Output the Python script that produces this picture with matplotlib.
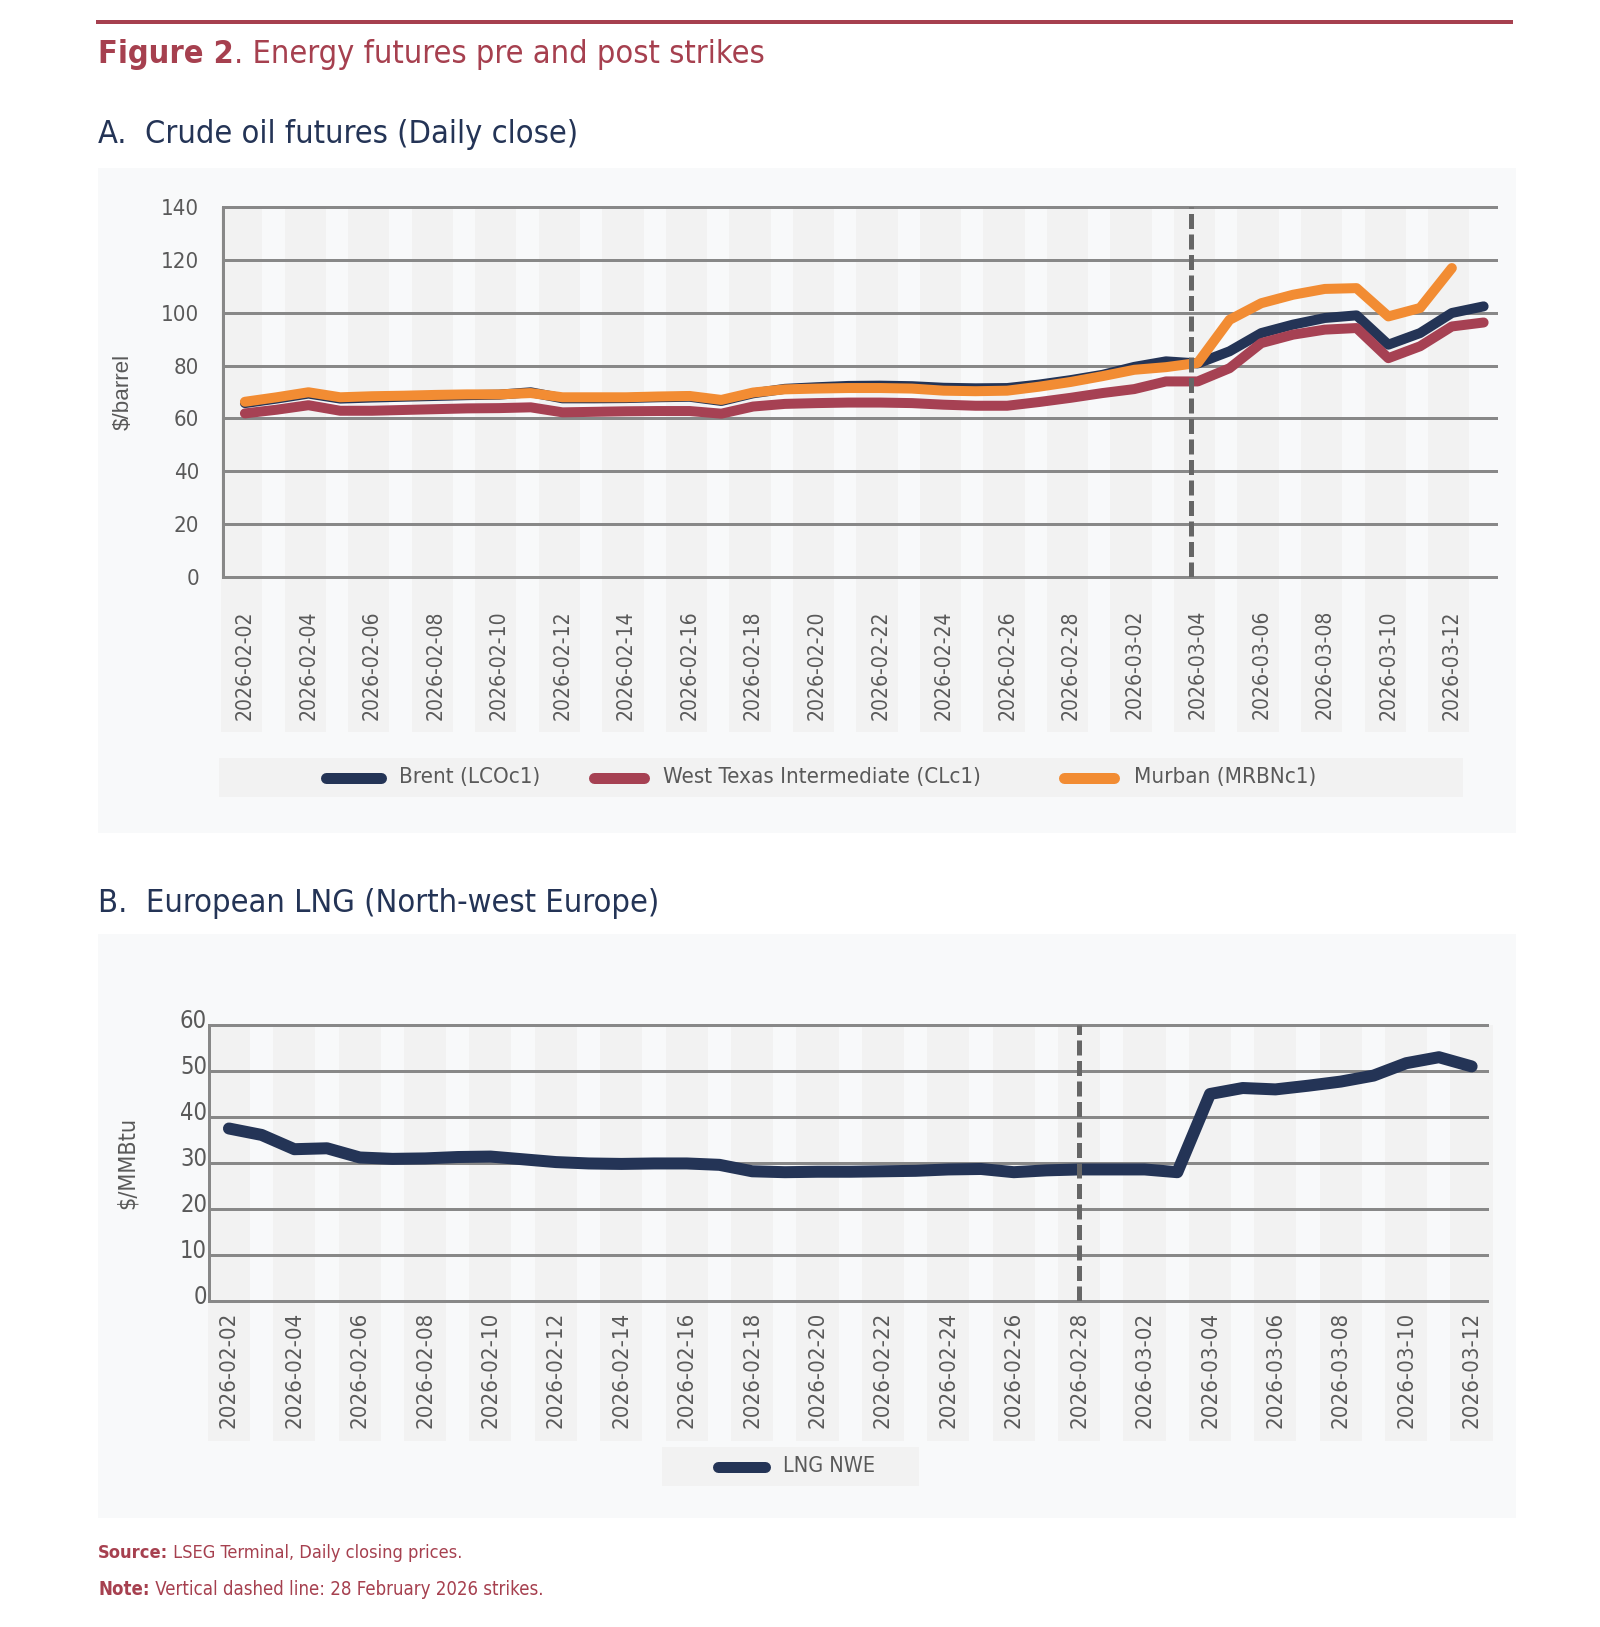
import numpy as np
import pandas as pd
import matplotlib
matplotlib.use("Agg")
import matplotlib.pyplot as plt
import matplotlib.font_manager as fm
from matplotlib.patches import Rectangle
from matplotlib.lines import Line2D
import matplotlib.transforms as mtransforms

W, H = 1600, 1627
RED, NAVY, WTI_C, ORANGE = "#a6404f", "#243456", "#a64153", "#f28c33"
GRID, TICK, DASH = "#888888", "#595959", "#666666"
PANEL, BAND = "#f8f9fa", "#f2f2f2"

# pick a narrow face if one is installed, else an Arial-like one
_cond = [f.name for f in fm.fontManager.ttflist
         if (f.stretch != "normal" or "Narrow" in f.name or "Condensed" in f.name)
         and f.style == "normal" and "Mono" not in f.name and "Serif" not in f.name]
FAM = [(_cond[0] if _cond else "Liberation Sans"), "DejaVu Sans"]
STRETCH = "condensed" if _cond else "normal"
REGULAR = ["Liberation Sans", "DejaVu Sans"]

# ---- data ----
crude_dates = list(pd.date_range("2026-02-02", "2026-03-13").strftime("%Y-%m-%d"))
brent = [65.8, 67.5, 69.4, 67.5, 67.9, 68.2, 68.5, 68.8, 69.0, 69.9,
         67.6, 67.6, 67.7, 68.0, 68.2, 66.6, 69.5, 71.2, 71.8, 72.3,
         72.4, 72.2, 71.6, 71.4, 71.5, 72.8, 74.5, 76.5, 79.5, 81.6,
         80.8, 85.4, 92.3, 95.5, 98.0, 99.0, 87.9, 92.3, 99.9, 102.4]
wti = [61.9, 63.3, 65.0, 62.9, 62.9, 63.2, 63.5, 63.8, 63.9, 64.2,
       62.3, 62.5, 62.7, 62.8, 62.8, 61.8, 64.5, 65.5, 65.8, 66.0,
       66.0, 65.8, 65.2, 64.8, 64.8, 66.2, 67.8, 69.6, 71.1, 74.0,
       74.0, 79.0, 88.5, 91.7, 93.6, 94.2, 82.8, 87.3, 94.8, 96.3]
murban = [66.3, 68.0, 69.9, 68.0, 68.4, 68.6, 68.9, 69.1, 69.1, 69.6,
          68.0, 68.0, 68.0, 68.3, 68.5, 67.0, 69.8, 71.0, 71.3, 71.5,
          71.5, 71.3, 70.5, 70.3, 70.5, 72.0, 73.8, 76.0, 78.4, 79.4,
          81.0, 97.3, 103.6, 106.8, 109.0, 109.3, 98.6, 101.8, 116.9]
crude_strike = 29.8          # dashed line position in panel A (category units)

lng_dates = crude_dates[:39]
lng = [37.5, 36.1, 33.0, 33.2, 31.2, 30.9, 31.0, 31.3, 31.4, 30.8,
       30.2, 29.9, 29.8, 29.9, 29.9, 29.6, 28.2, 28.0, 28.1, 28.1,
       28.2, 28.3, 28.6, 28.7, 28.0, 28.4, 28.6, 28.6, 28.6, 28.0,
       45.0, 46.3, 46.0, 46.8, 47.7, 49.0, 51.7, 53.0, 51.0]
lng_strike = 26

crude_ticks = [0, 20, 40, 60, 80, 100, 120, 140]
lng_ticks = [0, 10, 20, 30, 40, 50, 60]

fx = lambda x: x / W
fy = lambda y: 1 - y / H
PX = 0.72  # points per pixel at dpi 100

fig = plt.figure(figsize=(16, 16.27), dpi=100)
fig.patch.set_facecolor("white")
r = fig.canvas.get_renderer()

def width(s, size, weight="normal", family=None):
    t = fig.text(0, 0, s, fontsize=size, weight=weight, family=family or FAM, stretch=STRETCH)
    w = t.get_window_extent(r).width
    t.remove()
    return w

def fit(parts, target, family=None):
    """font size so that the (text, weight) parts together span `target` px"""
    w = sum(width(s, 20, wt, family) for s, wt in parts)
    return 20 * target / w

def mixed(x, y, parts, size, color):
    for s, wt in parts:
        t = fig.text(fx(x), fy(y), s, fontsize=size, weight=wt, color=color, family=FAM,
                     stretch=STRETCH, va="baseline")
        x = t.get_window_extent(r).x1

def panel(x0, y0, x1, y1, color=PANEL, z=-2):
    fig.patches.append(Rectangle((fx(x0), fy(y1)), fx(x1) - fx(x0), fy(y0) - fy(y1),
                                 transform=fig.transFigure, color=color, zorder=z, lw=0))

def legend(box, items, size):
    x0, y0, x1, y1 = box
    panel(x0, y0, x1, y1, BAND, -1)
    yc = (y0 + y1) / 2
    for lx0, lx1, tx, label, col in items:
        fig.add_artist(Line2D([fx(lx0), fx(lx1)], [fy(yc), fy(yc)], color=col, lw=11 * PX,
                              solid_capstyle="round", zorder=2))
        fig.text(fx(tx), fy(yc), label, fontsize=size, color=TICK, family=FAM, stretch=STRETCH,
                 va="center")

def chart(rect, xlim, ylim, ticks, labels, bands, band_bottom, xpad, ypad, xsize, ysize):
    x0, y0, x1, y1 = rect
    ax = fig.add_axes([fx(x0), fy(y1), fx(x1) - fx(x0), fy(y0) - fy(y1)])
    ax.set_facecolor("none")
    ax.set_xlim(*xlim); ax.set_ylim(*ylim)
    for s in ("top", "right", "bottom"):
        ax.spines[s].set_visible(False)
    ax.spines["left"].set_color(GRID); ax.spines["left"].set_linewidth(3 * PX)
    bb = (y1 - band_bottom) / (y1 - y0)
    for k in range(0, len(labels), 2):
        ax.add_patch(Rectangle((k + bands[0], bb), bands[1] - bands[0], 1 - bb,
                               transform=ax.get_xaxis_transform(), clip_on=False,
                               color=BAND, zorder=0, lw=0))
    for v in ticks:
        ax.axhline(v, color=GRID, lw=3 * PX, clip_on=False, zorder=1)
    ax.set_yticks(ticks)
    ax.set_xticks(range(0, len(labels), 2))
    ax.set_xticklabels(labels[::2], rotation=90, family=FAM, stretch=STRETCH, fontsize=xsize,
                       color=TICK)
    ax.set_yticklabels([str(t) for t in ticks], family=FAM, stretch=STRETCH, fontsize=ysize,
                       color=TICK)
    ax.tick_params(axis="x", length=0, pad=xpad)
    ax.tick_params(axis="y", length=0, pad=ypad)
    return ax

# ---- header ----
fig.add_artist(Line2D([fx(98), fx(1511)], [fy(22), fy(22)], color=RED, lw=4 * PX))
title = [("Figure 2", "bold"), (". Energy futures pre and post strikes", "normal")]
mixed(98, 63, title, fit(title, 665), RED)

# ---- panel A ----
subA = "A.  Crude oil futures (Daily close)"
fig.text(fx(98), fy(143), subA, fontsize=fit([(subA, "normal")], 480), color=NAVY,
         family=FAM, stretch=STRETCH, va="baseline")
panel(98, 168, 1516, 833)
axA = chart((223, 207, 1496, 577), (-0.69, 39.39), (0, 140), crude_ticks, crude_dates,
            (-0.75, 0.55), 732, 33 * PX, 24 * PX,
            fit([("2026-02-02", "normal")], 110), fit([("140", "normal")], 38))
xs = np.arange(len(crude_dates))
for ys, col in [(brent, NAVY), (wti, WTI_C), (murban, ORANGE)]:
    axA.plot(xs[:len(ys)], ys, color=col, lw=10 * PX, solid_capstyle="round",
             solid_joinstyle="round", zorder=3)
axA.axvline(crude_strike, color=DASH, lw=5 * PX, ls=(0, (3, 1.1)), zorder=5)
fig.text(fx(123), fy(392), "$/barrel", rotation=90,
         fontsize=fit([("$/barrel", "normal")], 76, REGULAR), color=TICK, family=REGULAR,
         ha="center", va="center")
legend((219, 758, 1463, 797),
       [(326, 381, 399, "Brent (LCOc1)", NAVY),
        (594, 644, 663, "West Texas Intermediate (CLc1)", WTI_C),
        (1064, 1114, 1134, "Murban (MRBNc1)", ORANGE)],
       fit([("West Texas Intermediate (CLc1)", "normal")], 317))

# ---- panel B ----
subB = "B.  European LNG (North-west Europe)"
fig.text(fx(98), fy(912), subB, fontsize=fit([(subB, "normal")], 561), color=NAVY,
         family=FAM, stretch=STRETCH, va="baseline")
panel(98, 934, 1516, 1518)
axB = chart((209, 1025, 1487, 1301), (-0.61, 38.47), (0, 60), lng_ticks, lng_dates,
            (-0.65, 0.64), 1441, 11 * PX, 2 * PX,
            fit([("2026-02-02", "normal")], 116), fit([("60", "normal")], 27))
off = mtransforms.ScaledTranslation(0, 6 / 100, fig.dpi_scale_trans)
for lbl in axB.get_yticklabels():
    lbl.set_transform(lbl.get_transform() + off)
axB.plot(np.arange(len(lng)), lng, color=NAVY, lw=12 * PX, solid_capstyle="round",
         solid_joinstyle="round", zorder=3)
axB.axvline(lng_strike, color=DASH, lw=5 * PX, ls=(0, (3, 1.1)), zorder=5)
fig.text(fx(127), fy(1163), "$/MMBtu", rotation=90, fontsize=fit([("$/MMBtu", "normal")], 92),
         color=TICK, family=FAM, stretch=STRETCH, ha="center", va="center")
legend((662, 1447, 919, 1486), [(718, 765, 783, "LNG NWE", NAVY)],
       fit([("LNG NWE", "normal")], 92))

# ---- footer ----
src = [("Source:", "bold"), (" LSEG Terminal, Daily closing prices.", "normal")]
note = [("Note:", "bold"), (" Vertical dashed line: 28 February 2026 strikes.", "normal")]
mixed(98, 1558, src, fit(src, 365), RED)
mixed(98, 1595, note, fit(note, 444), RED)

fig.savefig("out.png", dpi=100, facecolor="white")
